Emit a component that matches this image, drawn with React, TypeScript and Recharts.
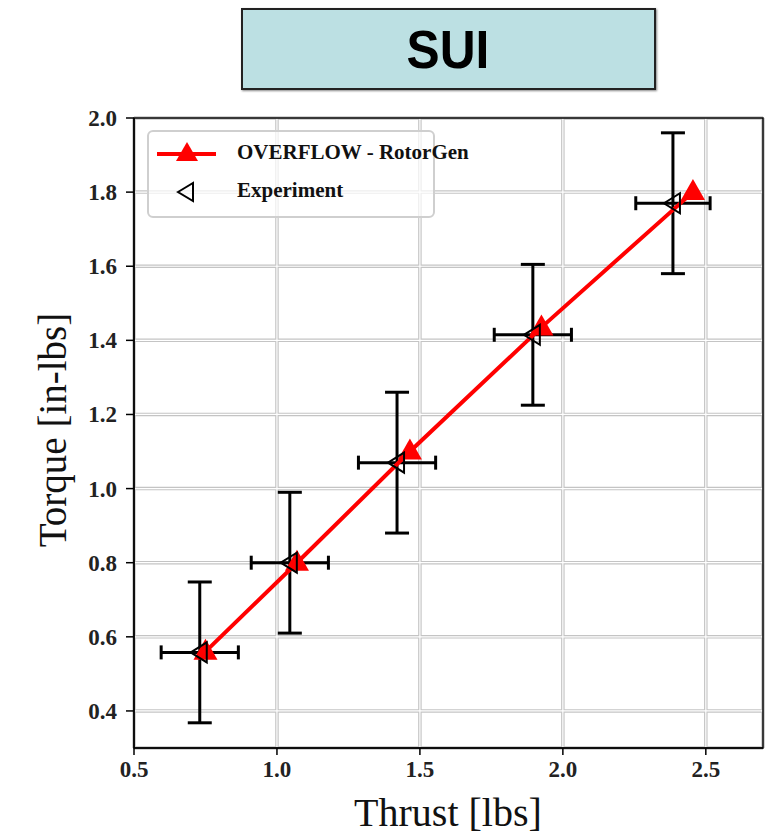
import { ComposedChart, Scatter, XAxis, YAxis, CartesianGrid, ErrorBar, ReferenceArea } from 'recharts';

const overflowThrust = [0.75, 1.07, 1.465, 1.925, 2.455];
const overflowTorque = [0.56, 0.8, 1.1, 1.435, 1.8];
const expThrust = [0.73, 1.045, 1.42, 1.895, 2.385];
const expTorque = [0.558, 0.8, 1.07, 1.415, 1.77];
const expThrustErr = [0.135, 0.135, 0.135, 0.135, 0.13];
const expTorqueErr = [0.19, 0.19, 0.19, 0.19, 0.19];
const xTicks = [0.5, 1.0, 1.5, 2.0, 2.5];
const yTicks = [0.4, 0.6, 0.8, 1.0, 1.2, 1.4, 1.6, 1.8, 2.0];

const overflowData = overflowThrust.map((x, i) => ({ x, y: overflowTorque[i] }));
const expData = expThrust.map((x, i) => ({ x, y: expTorque[i], xErr: expThrustErr[i], yErr: expTorqueErr[i] }));

const serif = '"Liberation Serif", "DejaVu Serif", serif';

const UpTriangle = (props: any) => {
  const { cx, cy } = props;
  if (cx == null || cy == null) return null;
  return <polygon points={`${cx},${cy - 13} ${cx - 12},${cy + 8} ${cx + 12},${cy + 8}`} fill="#ff0000" />;
};

const LeftTriangle = (props: any) => {
  const { cx, cy } = props;
  if (cx == null || cy == null) return null;
  return (
    <polygon
      points={`${cx - 9},${cy} ${cx + 7},${cy - 10} ${cx + 7},${cy + 10}`}
      fill="none"
      stroke="#000"
      strokeWidth={2}
    />
  );
};

const XTick = (props: any) => {
  const { x, y, payload } = props;
  return (
    <text x={x} y={y + 22} textAnchor="middle" fontFamily={serif} fontWeight="bold" fontSize={23} fill="#222">
      {Number(payload.value).toFixed(1)}
    </text>
  );
};

const YTick = (props: any) => {
  const { x, y, payload } = props;
  return (
    <text x={x - 2} y={y + 8} textAnchor="end" fontFamily={serif} fontWeight="bold" fontSize={23} fill="#222">
      {Number(payload.value).toFixed(1)}
    </text>
  );
};

const LegendBox = () => (
  <div
    style={{
      position: 'absolute',
      left: 147,
      top: 130,
      width: 284,
      height: 84,
      border: '2px solid #cfcfcf',
      borderRadius: 6,
      background: 'rgba(255,255,255,0.7)',
      fontFamily: serif,
      fontWeight: 'bold',
      fontSize: 21,
      color: '#111',
      whiteSpace: 'nowrap',
    }}
  >
    <svg width={80} height={84} style={{ position: 'absolute', left: 0, top: 0 }}>
      <line x1={8} y1={22} x2={67} y2={22} stroke="#ff0000" strokeWidth={4} />
      <polygon points="38,10 27,29 49,29" fill="#ff0000" />
      <polygon points="29,60 44,51 44,69" fill="none" stroke="#000" strokeWidth={2} />
    </svg>
    <div style={{ position: 'absolute', left: 88, top: 8 }}>OVERFLOW - RotorGen</div>
    <div style={{ position: 'absolute', left: 88, top: 46 }}>Experiment</div>
  </div>
);

export default function App() {
  return (
    <div style={{ position: 'absolute', left: 0, top: 0, width: 769, height: 838, background: '#fff' }}>
      <div
        style={{
          position: 'absolute',
          left: 241,
          top: 8,
          width: 411,
          height: 78,
          background: '#bce0e3',
          border: '2px solid #222',
          boxShadow: '1px 1px 2px #888',
          display: 'flex',
          alignItems: 'center',
          justifyContent: 'center',
          fontFamily: '"Liberation Sans", Arial, sans-serif',
          fontWeight: 'bold',
          fontSize: 54,
          color: '#000',
        }}
      >
        <span style={{ display: 'inline-block', transform: 'scaleX(0.92)' }}>SUI</span>
      </div>
      <ComposedChart width={769} height={838} margin={{ top: 118, right: 6, bottom: 50, left: 84 }} style={{ position: 'absolute', left: 0, top: 0 }}>
        <CartesianGrid stroke="#c4c4c4" strokeWidth={3.5} />
        <CartesianGrid stroke="#ffffff" strokeWidth={1.2} />
        <XAxis
          type="number"
          dataKey="x"
          domain={[0.5, 2.7]}
          ticks={xTicks}
          allowDataOverflow
          height={40}
          stroke="#000"
          strokeWidth={1.5}
          tickSize={7}
          tickMargin={0}
          tick={<XTick />}
        />
        <YAxis
          type="number"
          dataKey="y"
          domain={[0.3, 2.0]}
          ticks={yTicks}
          allowDataOverflow
          width={50}
          stroke="#000"
          strokeWidth={1.5}
          tickSize={8}
          tickMargin={7}
          tick={<YTick />}
        />
        <ReferenceArea x1={0.5} x2={2.7} y1={0.3} y2={2.0} fill="none" stroke="#000" strokeWidth={1.5} strokeOpacity={1} />
        <Scatter
          name="OVERFLOW - RotorGen"
          data={overflowData}
          line={{ stroke: '#ff0000', strokeWidth: 4 }}
          shape={<UpTriangle />}
          fill="#ff0000"
          isAnimationActive={false}
        />
        <Scatter name="Experiment" data={expData} shape={<LeftTriangle />} fill="none" isAnimationActive={false}>
          <ErrorBar dataKey="xErr" direction="x" width={7} stroke="#000" strokeWidth={3} />
          <ErrorBar dataKey="yErr" direction="y" width={12} stroke="#000" strokeWidth={3} />
        </Scatter>
      </ComposedChart>
      <LegendBox />
      <div
        style={{
          position: 'absolute',
          left: 52,
          top: 430,
          transform: 'translate(-50%, -50%) rotate(-90deg)',
          whiteSpace: 'nowrap',
          fontFamily: serif,
          fontSize: 39,
          color: '#111',
        }}
      >
        Torque [in-lbs]
      </div>
      <div
        style={{
          position: 'absolute',
          left: 448,
          top: 812,
          transform: 'translate(-50%, -50%)',
          whiteSpace: 'nowrap',
          fontFamily: serif,
          fontSize: 40,
          color: '#111',
        }}
      >
        Thrust [lbs]
      </div>
    </div>
  );
}
